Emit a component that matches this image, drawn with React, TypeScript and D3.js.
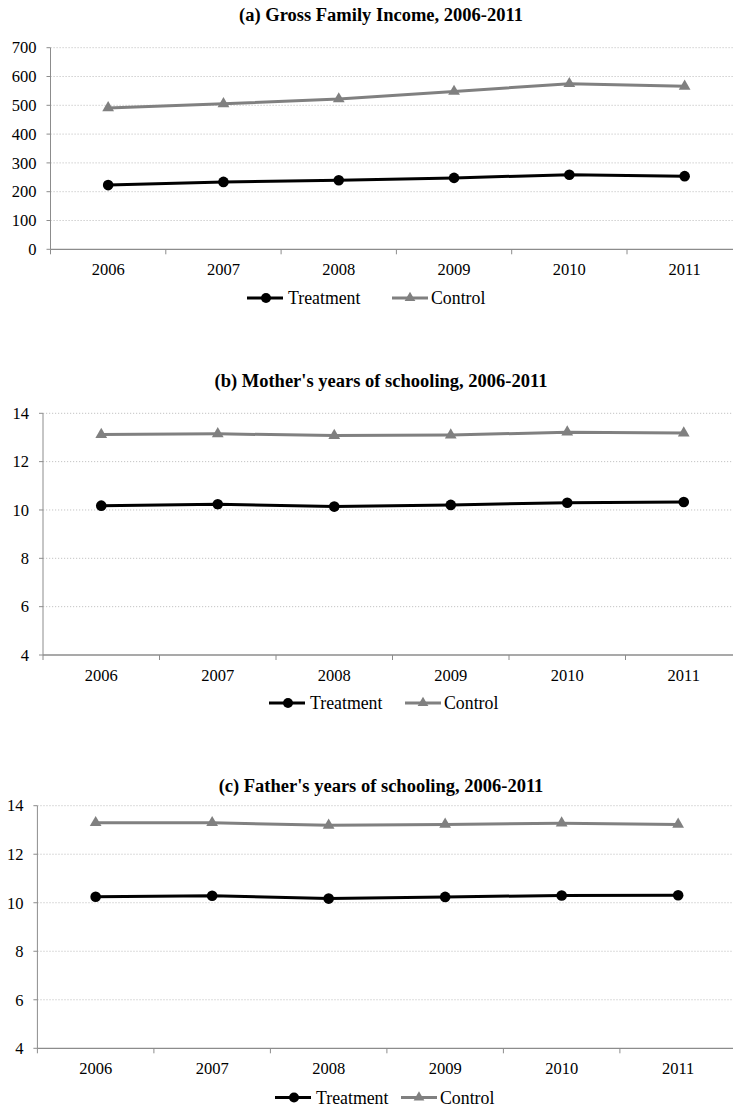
import React from "react";
import * as d3 from "d3";

const years = ["2006", "2007", "2008", "2009", "2010", "2011"];

const incomeTreatment = [223, 234, 240, 248, 259, 254];
const incomeControl = [491, 505, 522, 548, 575, 566];
const incomeTicks = [0, 100, 200, 300, 400, 500, 600, 700];

const motherTreatment = [10.18, 10.24, 10.14, 10.21, 10.3, 10.33];
const motherControl = [13.12, 13.15, 13.08, 13.1, 13.22, 13.18];
const schoolTicks = [4, 6, 8, 10, 12, 14];

const fatherTreatment = [10.25, 10.29, 10.17, 10.24, 10.3, 10.31];
const fatherControl = [13.3, 13.3, 13.19, 13.23, 13.28, 13.23];

const titles = [
  "(a) Gross Family Income, 2006-2011",
  "(b) Mother's years of schooling, 2006-2011",
  "(c) Father's years of schooling, 2006-2011",
];
const seriesNames = ["Treatment", "Control"];

const W = 733;
const H = 1111;
const FONT = "Liberation Serif";
const GRAY = "#808080";
const AXIS = "#8c8c8c";

type PanelProps = {
  title: string;
  treatment: number[];
  control: number[];
  ticks: number[];
  left: number;
  top: number;
  bottom: number;
  band: number;
  titleY: number;
  legendY: number;
  legendT: number;
  legendC: number;
};

function Triangle({ x, y, s }: { x: number; y: number; s: number }) {
  const path = d3.symbol().type(d3.symbolTriangle).size(s)();
  return <path d={path || ""} transform={`translate(${x},${y})`} fill={GRAY} />;
}

function Panel(p: PanelProps) {
  const domain = d3.extent(p.ticks) as [number, number];
  const y = d3.scaleLinear().domain(domain).range([p.bottom, p.top]);
  const x = d3
    .scaleBand()
    .domain(years)
    .range([p.left, p.left + p.band * years.length])
    .paddingInner(0)
    .paddingOuter(0);
  const cx = (yr: string) => (x(yr) as number) + x.bandwidth() / 2;
  const line = d3
    .line<number>()
    .x((_, i) => cx(years[i]))
    .y((d) => y(d));
  const boundaries = years.map((yr) => x(yr) as number).concat([p.left + p.band * years.length]);

  return (
    <g>
      <text x={381} y={p.titleY} textAnchor="middle" fontFamily={FONT} fontWeight="bold" fontSize={18.5} fill="#000">
        {p.title}
      </text>
      {p.ticks.map((t) => (
        <g key={t}>
          {t !== domain[0] && (
            <line
              x1={p.left}
              x2={W}
              y1={y(t)}
              y2={y(t)}
              stroke="#c4c4c4"
              strokeWidth={1}
              strokeDasharray="1.2,1.8"
            />
          )}
          <line x1={p.left - 4} x2={p.left} y1={y(t)} y2={y(t)} stroke={AXIS} strokeWidth={1} />
          <text x={p.left - 14} y={y(t)} dy="0.35em" textAnchor="end" fontFamily={FONT} fontSize={16.5} fill="#000">
            {t}
          </text>
        </g>
      ))}
      <line x1={p.left} x2={p.left} y1={p.top} y2={p.bottom} stroke={AXIS} strokeWidth={1} />
      <line x1={p.left} x2={W} y1={p.bottom} y2={p.bottom} stroke={AXIS} strokeWidth={1.3} />
      {boundaries.map((b, i) => (
        <line key={i} x1={b} x2={b} y1={p.bottom} y2={p.bottom + 5} stroke={AXIS} strokeWidth={1} />
      ))}
      {years.map((yr) => (
        <text key={yr} x={cx(yr)} y={p.bottom + 20} dy="0.35em" textAnchor="middle" fontFamily={FONT} fontSize={16.5} fill="#000">
          {yr}
        </text>
      ))}
      <path d={line(p.control) || ""} fill="none" stroke={GRAY} strokeWidth={3} />
      {p.control.map((v, i) => (
        <Triangle key={i} x={cx(years[i])} y={y(v)} s={60} />
      ))}
      <path d={line(p.treatment) || ""} fill="none" stroke="#000" strokeWidth={3} />
      {p.treatment.map((v, i) => (
        <circle key={i} cx={cx(years[i])} cy={y(v)} r={5.3} fill="#000" />
      ))}
      <g>
        <line x1={p.legendT} x2={p.legendT + 36} y1={p.legendY} y2={p.legendY} stroke="#000" strokeWidth={3} />
        <circle cx={p.legendT + 19} cy={p.legendY} r={5} fill="#000" />
        <text x={p.legendT + 41} y={p.legendY} dy="0.35em" fontFamily={FONT} fontSize={17.8} fill="#000">
          {seriesNames[0]}
        </text>
        <line x1={p.legendC} x2={p.legendC + 36} y1={p.legendY} y2={p.legendY} stroke={GRAY} strokeWidth={3} />
        <Triangle x={p.legendC + 18} y={p.legendY} s={50} />
        <text x={p.legendC + 39} y={p.legendY} dy="0.35em" fontFamily={FONT} fontSize={17.8} fill="#000">
          {seriesNames[1]}
        </text>
      </g>
    </g>
  );
}

export default function App() {
  return (
    <svg
      width={W}
      height={H}
      viewBox={`0 0 ${W} ${H}`}
      style={{ position: "absolute", left: 0, top: 0, background: "#fff" }}
    >
      <rect width={W} height={H} fill="#fff" />
      <Panel
        title={titles[0]}
        treatment={incomeTreatment}
        control={incomeControl}
        ticks={incomeTicks}
        left={50.5}
        top={47.7}
        bottom={249.3}
        band={115.3}
        titleY={20.5}
        legendY={298}
        legendT={247}
        legendC={392}
      />
      <Panel
        title={titles[1]}
        treatment={motherTreatment}
        control={motherControl}
        ticks={schoolTicks}
        left={43}
        top={413.3}
        bottom={655}
        band={116.5}
        titleY={386.5}
        legendY={703}
        legendT={269}
        legendC={405}
      />
      <Panel
        title={titles[2]}
        treatment={fatherTreatment}
        control={fatherControl}
        ticks={schoolTicks}
        left={37.4}
        top={805.7}
        bottom={1048.3}
        band={116.5}
        titleY={791.5}
        legendY={1097.5}
        legendT={275}
        legendC={401}
      />
    </svg>
  );
}
